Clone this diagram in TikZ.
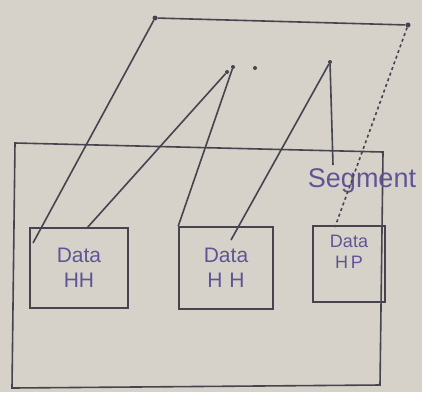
\documentclass[tikz,border=0pt]{standalone}
\usepackage{fontspec}
\setmainfont{Liberation Sans}
\definecolor{paper}{RGB}{214,210,202}
\definecolor{pen}{RGB}{70,68,78}
\definecolor{ink}{RGB}{95,85,150}
\begin{document}
\begin{tikzpicture}[x=1pt,y=-1pt,
  pen/.style={draw=pen,line width=1.6pt},
  box/.style={pen,rectangle,inner sep=0pt,align=center,text=ink,font=\fontsize{21}{23}\selectfont},
  dot/.style={circle,fill=pen,inner sep=0pt,minimum size=5pt}]
\fill[paper] (0,0) rectangle (422,392);
\useasboundingbox (0,0) rectangle (422,392);
% big frame
\draw[pen] (15,143) -- (383,152) -- (380,385) -- (12,388) -- cycle;
% boxes
\node[box,minimum width=98pt,minimum height=80pt] (b1) at (79,268) {Data\\[2pt]HH};
\node[box,minimum width=94pt,minimum height=82pt] (b2) at (226,268) {Data\\[2pt]H\,\,H};
\node[box,minimum width=72pt,minimum height=76pt,text depth=24pt,font=\fontsize{18}{20}\selectfont] (b3) at (349,264) {Data\\[1pt]H\,P};
% top points
\node[dot] (p1) at (155,18) {};
\node[dot] (p2) at (408,25) {};
\node[dot,minimum size=4pt] (p3) at (227,72) {};
\node[dot,minimum size=4pt] (p4) at (233,67) {};
\node[dot,minimum size=4pt] (p5) at (255,68) {};
\node[dot,minimum size=4pt] (p6) at (330,62) {};
% label
\node[text=ink,font=\fontsize{27}{30}\selectfont,inner sep=1pt] (seg) at (362,181) {Segment};
% ends
\coordinate (e1) at (33,243);
\coordinate (e2) at (87,228);
\coordinate (e3) at (231,240);
\coordinate (e4) at (335,227);
\coordinate (e5) at (333,165);
% connectors
\draw[pen] (p1) -- (p2);
\draw[pen] (p1) -- (e1);
\draw[pen] (p3) -- (e2);
\draw[pen] (p4) -- (b2.north west);
\draw[pen] (p6) -- (e3);
\draw[pen] (p6) -- (e5);
\draw[pen,dashed] (p2) -- (e4);
\end{tikzpicture}
\end{document}
